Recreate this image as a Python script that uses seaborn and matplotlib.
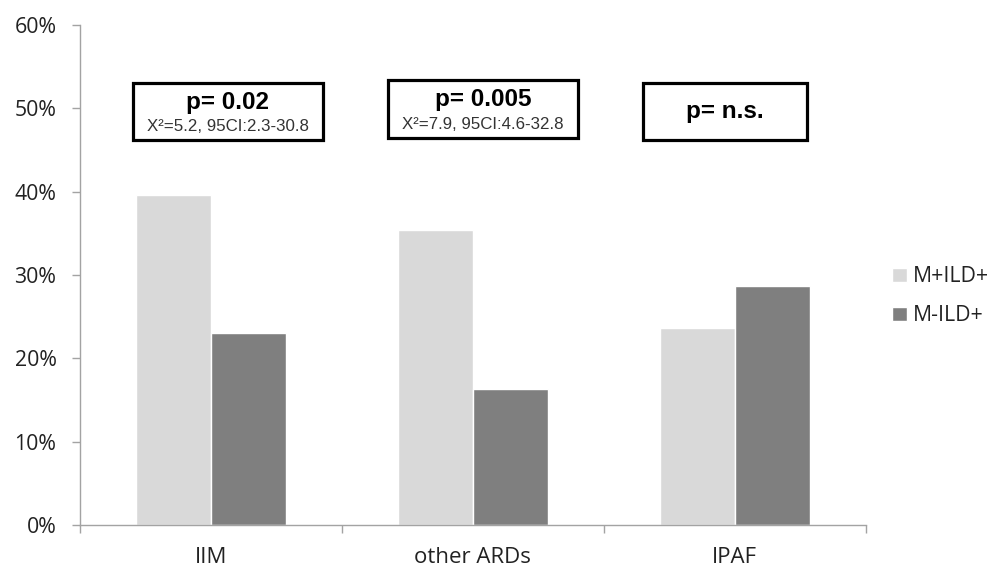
import matplotlib
matplotlib.use("Agg")
import matplotlib.pyplot as plt
from matplotlib.patches import Rectangle
from matplotlib.ticker import PercentFormatter, FixedLocator
import seaborn as sns
import pandas as pd

categories = ["IIM", "other ARDs", "IPAF"]
series_names = ["M+ILD+", "M-ILD+"]
m_plus_ild = [0.396, 0.354, 0.237]
m_minus_ild = [0.230, 0.163, 0.287]
p_labels = ["p= 0.02", "p= 0.005", "p= n.s."]
stat_labels = ["X\u00b2=5.2, 95CI:2.3-30.8", "X\u00b2=7.9, 95CI:4.6-32.8", ""]
yticks = [0, 0.1, 0.2, 0.3, 0.4, 0.5, 0.6]

df = pd.DataFrame({
    "category": categories * 2,
    "group": [series_names[0]] * 3 + [series_names[1]] * 3,
    "value": m_plus_ild + m_minus_ild,
})

sns.set_theme(style="white")
plt.rcParams["font.family"] = ["Open Sans", "DejaVu Sans"]

fig = plt.figure(figsize=(9.94, 5.69), dpi=100)
ax = fig.add_axes([0.0805, 0.0773, 0.7905, 0.8787])

sns.barplot(data=df, x="category", y="value", hue="group", order=categories,
            hue_order=series_names, palette=["#d9d9d9", "#7f7f7f"],
            width=0.573, ax=ax, legend=True, saturation=1)

ax.set_xlim(-0.5, 2.5)
ax.set_ylim(0, 0.6)
ax.set_yticks(yticks)
ax.yaxis.set_major_formatter(PercentFormatter(1.0, decimals=0))
ax.set_xlabel("")
ax.set_ylabel("")

for s in ["top", "right"]:
    ax.spines[s].set_visible(False)
for s in ["left", "bottom"]:
    ax.spines[s].set_color("#a3a3a3")
    ax.spines[s].set_linewidth(1.0)

ax.tick_params(axis="y", which="major", direction="out", length=6, width=1,
               color="#a3a3a3", labelsize=15.3, labelcolor="#222222", pad=11, left=True)
ax.tick_params(axis="x", which="major", length=0, labelsize=16, labelcolor="#222222", pad=15.5)
ax.xaxis.set_minor_locator(FixedLocator([-0.5, 0.5, 1.5, 2.5]))
ax.tick_params(axis="x", which="minor", direction="out", length=6, width=1,
               color="#a3a3a3", bottom=True)

boxes = [(-0.298, 0.4275, 0.462, 0.5304),
         (0.676, 1.40, 0.464, 0.534),
         (1.649, 2.275, 0.462, 0.5304)]
box_font = ["Liberation Sans", "DejaVu Sans"]
for (x0, x1, y0, y1), pl, sl in zip(boxes, p_labels, stat_labels):
    ax.add_patch(Rectangle((x0, y0), x1 - x0, y1 - y0, fill=True, facecolor="white",
                           edgecolor="black", linewidth=2.3, zorder=5))
    xc = (x0 + x1) / 2
    if sl:
        ax.text(xc, y0 + (y1 - y0) * 0.66, pl, ha="center", va="center",
                fontsize=17.5, fontweight="bold", family=box_font,
                color="black", zorder=6)
        ax.text(xc, y0 + (y1 - y0) * 0.23, sl, ha="center", va="center",
                fontsize=12.2, family=box_font, color="#333333", zorder=6)
    else:
        ax.text(xc, (y0 + y1) / 2, pl, ha="center", va="center",
                fontsize=17.5, fontweight="bold", family=box_font,
                color="black", zorder=6)

leg = ax.legend(loc="center left", bbox_to_anchor=(0.878, 0.479),
                bbox_transform=fig.transFigure, frameon=False, fontsize=15.3,
                handlelength=0.7, handleheight=0.7, handletextpad=0.3,
                labelspacing=0.85, title=None)
for t in leg.get_texts():
    t.set_color("#222222")

fig.savefig("out.png", dpi=100)
